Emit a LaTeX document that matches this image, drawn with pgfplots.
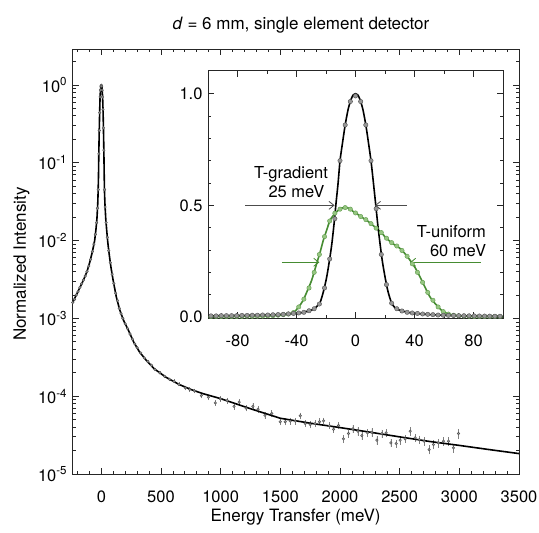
\documentclass[border=0pt]{standalone}
\usepackage{fontspec}
\setmainfont{TeX Gyre Heros}
\usepackage{pgfplots}
\pgfplotsset{compat=1.18}
\usepackage{pgfplotstable}
\usetikzlibrary{arrows.meta}

\definecolor{gline}{RGB}{70,140,50}
\definecolor{gfill}{RGB}{150,198,130}
\definecolor{gedge}{RGB}{95,155,75}
\definecolor{kfill}{RGB}{150,150,150}
\definecolor{kedge}{RGB}{80,80,80}

\pgfplotstableread{
E I
-240 1.6e-3
-200 2.15e-3
-154 3.0e-3
-120 4.0e-3
-98 5.2e-3
-75 7.2e-3
-56 1.0e-2
-45 1.4e-2
-37 1.9e-2
-30 3.0e-2
-27 0.042
-24 0.065
-21.5 0.12
-19.5 0.18
-17.5 0.26
-16 0.33
-14.5 0.42
-13.2 0.51
-11.8 0.60
-10.5 0.70
-8.8 0.78
-7 0.86
-5 0.93
-3 0.975
-1.5 0.995
0 1.0
1.5 0.995
3 0.975
5 0.93
7 0.86
8.8 0.78
10.5 0.70
12 0.61
13.6 0.51
15 0.42
16.6 0.33
18.2 0.25
20 0.18
22 0.115
24.5 0.062
27 0.04
30 0.03
37 0.019
45 0.0135
54 0.0095
64 0.007
80 0.0046
97 0.0032
125 0.0019
153 0.0013
185 0.00095
222 0.00073
270 0.0005
320 0.00037
380 0.000285
445 0.000224
542 0.000175
650 0.000142
750 0.000122
850 0.000108
1000 0.000093
1250 0.000069
1500 0.000052
1750 0.000045
2000 0.0000395
2250 0.0000345
2500 0.0000300
2750 0.0000262
3000 0.0000233
3250 0.0000206
3500 0.0000183
}\maincurve

\pgfplotstableread{
E I e
-240 1.6e-3 0.02
-225 1.75e-3 0.02
-210 2.0e-3 0.02
-195 2.2e-3 0.02
-180 2.5e-3 0.02
-165 2.8e-3 0.02
-150 3.1e-3 0.02
-135 3.5e-3 0.02
-120 4.0e-3 0.02
-105 4.7e-3 0.02
-90 5.7e-3 0.02
-75 7.2e-3 0.02
-62 9e-3 0.02
-50 1.2e-2 0.02
-40 1.7e-2 0.02
-32 2.6e-2 0.02
-26 0.045 0.02
-21 0.13 0.02
-17.5 0.26 0.02
-14 0.44 0.02
-10.5 0.70 0.02
-7 0.86 0.02
-3.5 0.965 0.02
0 0.99 0.02
3.5 0.965 0.02
7 0.86 0.02
10.5 0.70 0.02
14 0.485 0.02
17.5 0.28 0.02
21 0.145 0.02
26 0.045 0.02
32 0.027 0.02
40 0.017 0.02
50 0.011 0.02
62 0.0074 0.02
75 0.0052 0.02
90 0.0037 0.02
105 0.0028 0.02
120 0.0021 0.02
135 0.0017 0.02
150 0.00135 0.02
165 0.00115 0.02
180 0.001 0.02
200 0.00085 0.03
220 0.00074 0.03
240 0.00063 0.03
260 0.00054 0.03
280 0.00047 0.03
300 0.00042 0.03
330 0.00036 0.03
360 0.00031 0.03
390 0.00028 0.04
420 0.00025 0.04
450 0.00022 0.04
490 0.0002 0.05
530 0.00018 0.05
570 0.000165 0.05
610 0.000155 0.06
650 0.000142 0.06
703 0.000128 0.07
740 0.000122 0.07
781 0.000117 0.07
838 0.000102 0.08
897 0.000097 0.08
955 0.000082 0.08
998 0.000092 0.08
1055 0.000088 0.09
1112 0.000074 0.09
1155 0.000084 0.09
1213 0.000070 0.09
1270 0.000074 0.1
1313 0.000068 0.1
1371 0.000057 0.1
1428 0.000060 0.1
1499 0.0000470 0.1
1541 0.0000470 0.1
1583 0.0000478 0.1
1625 0.0000478 0.1
1667 0.0000560 0.1
1709 0.0000445 0.1
1750 0.0000432 0.1
1792 0.0000445 0.1
1828 0.0000470 0.1
1862 0.0000482 0.1
1912 0.0000418 0.1
1946 0.0000375 0.1
1988 0.0000420 0.1
2029 0.0000283 0.12
2071 0.0000331 0.12
2108 0.0000380 0.12
2150 0.0000355 0.12
2183 0.0000312 0.12
2231 0.0000338 0.12
2267 0.0000344 0.12
2309 0.0000272 0.12
2351 0.0000331 0.12
2387 0.0000338 0.12
2426 0.0000251 0.12
2471 0.0000246 0.12
2504 0.0000272 0.12
2546 0.0000283 0.12
2588 0.0000355 0.12
2630 0.0000292 0.12
2666 0.0000277 0.12
2705 0.0000264 0.13
2747 0.0000206 0.13
2783 0.0000239 0.13
2825 0.0000251 0.13
2867 0.0000264 0.13
2909 0.0000264 0.13
2951 0.0000217 0.13
2993 0.0000331 0.15
}\mainpts

\pgfplotstableread{
E I
-98 0.005
-94.5 0.005
-91 0.006
-87.5 0.006
-84 0.006
-80.5 0.006
-77 0.007
-73.5 0.007
-70 0.008
-66.5 0.008
-63 0.009
-59.5 0.009
-56 0.010
-52.5 0.011
-49 0.012
-45.5 0.014
-42 0.016
-38.5 0.018
-35 0.021
-31.5 0.028
-28 0.037
-24.5 0.058
-21 0.13
-17.5 0.26
-14 0.44
-10.5 0.70
-7 0.86
-3.5 0.965
0 0.99
3.5 0.965
7 0.86
10.5 0.70
14 0.485
17.5 0.28
21 0.145
24.5 0.062
28 0.037
31.5 0.027
35 0.021
38.5 0.018
42 0.016
45.5 0.0135
49 0.012
52.5 0.0105
56 0.0088
59.5 0.008
63 0.0073
66.5 0.0066
70 0.006
73.5 0.0056
77 0.0052
80.5 0.0048
84 0.0045
87.5 0.0042
91 0.0038
94.5 0.0035
98 0.0032
}\insetkpts

\pgfplotstableread{
E I
-100 0.002
-70 0.003
-55 0.006
-48 0.01
-42 0.02
-38.5 0.045
-35.4 0.076
-32.5 0.12
-29.7 0.165
-26.3 0.24
-24 0.29
-21.8 0.344
-19.5 0.39
-17.3 0.433
-15 0.455
-12.7 0.472
-10 0.485
-7.1 0.492
-4 0.485
-1.5 0.472
0.8 0.463
4 0.448
7.6 0.433
11 0.415
14.4 0.396
18 0.374
21.2 0.351
25 0.33
30.2 0.307
34 0.28
37 0.254
40.5 0.22
43.7 0.18
47 0.135
50.5 0.09
54 0.06
59.5 0.024
65 0.01
70.8 0.005
80 0.002
100 0.001
}\greencurve

\pgfplotstableread{
E I
-98 0.002
-94.5 0.002
-91 0.002
-87.5 0.002
-84 0.002
-80.5 0.002
-77 0.0025
-73.5 0.003
-70 0.003
-66.5 0.0035
-63 0.004
-59.5 0.005
-56 0.006
-52.5 0.008
-49 0.010
-45.5 0.013
-42 0.02
-38.5 0.045
-35 0.08
-31.5 0.13
-28 0.2
-24.5 0.28
-21 0.36
-17.5 0.43
-14 0.465
-10.5 0.483
-7 0.49
-3.5 0.483
0 0.466
3.5 0.45
7 0.436
10.5 0.418
14 0.398
17.5 0.378
21 0.353
24.5 0.333
28 0.318
31.5 0.298
35 0.272
38.5 0.238
42 0.2
45.5 0.155
49 0.11
52.5 0.075
56 0.045
59.5 0.024
63 0.013
66.5 0.008
70 0.005
73.5 0.004
77 0.003
80.5 0.002
84 0.002
87.5 0.002
91 0.002
94.5 0.002
98 0.002
}\greenpts

\begin{document}
\begin{tikzpicture}
\path[use as bounding box] (0,0) rectangle (539pt,533pt);

\begin{axis}[
  at={(72.7pt,59pt)}, anchor=south west,
  scale only axis, width=446.3pt, height=424.7pt,
  ymode=log,
  xmin=-240, xmax=3500, ymin=1e-5, ymax=2.87,
  xtick={0,500,1000,1500,2000,2500,3000,3500},
  minor xtick={-200,-100,100,200,300,400,600,700,800,900,1100,1200,1300,1400,1600,1700,1800,1900,2100,2200,2300,2400,2600,2700,2800,2900,3100,3200,3300,3400},
  ytick={1e-5,1e-4,1e-3,1e-2,1e-1,1},
  yticklabels={10\textsuperscript{-5},10\textsuperscript{-4},10\textsuperscript{-3},10\textsuperscript{-2},10\textsuperscript{-1},10\textsuperscript{0}},
  minor ytick={2e-5,3e-5,4e-5,5e-5,6e-5,7e-5,8e-5,9e-5,2e-4,3e-4,4e-4,5e-4,6e-4,7e-4,8e-4,9e-4,2e-3,3e-3,4e-3,5e-3,6e-3,7e-3,8e-3,9e-3,2e-2,3e-2,4e-2,5e-2,6e-2,7e-2,8e-2,9e-2,2e-1,3e-1,4e-1,5e-1,6e-1,7e-1,8e-1,9e-1,2},
  tick align=inside,
  major tick length=6pt, minor tick length=3.2pt,
  axis line style={line width=0.9pt, black!85},
  every tick/.style={line width=0.8pt, black!85},
  tick label style={font=\fontsize{16.5}{19}\selectfont},
  /pgf/number format/assume math mode=true,
  /pgf/number format/1000 sep={},
  xticklabel style={yshift=-13pt},
  yticklabel style={xshift=-2pt},
]
\addplot[only marks, mark=*, mark size=1.3pt, color=kedge, fill=kfill,
  error bars/.cd, y dir=both, y explicit relative,
  error bar style={line width=0.5pt, color=gray}, error mark=none]
  table[x=E, y=I, y error=e] {\mainpts};
\addplot[black, line width=1.6pt] table[x=E, y=I] {\maincurve};
\end{axis}

\begin{axis}[
  at={(208pt,215pt)}, anchor=south west,
  scale only axis, width=295pt, height=247.3pt,
  xmin=-100, xmax=100, ymin=-0.0045, ymax=1.103,
  axis background/.style={fill=white},
  xtick={-80,-40,0,40,80},
  minor xtick={-60,-20,20,60},
  ytick={0,0.5,1},
  minor ytick={0.1,0.2,0.3,0.4,0.6,0.7,0.8,0.9},
  tick align=inside,
  major tick length=6pt, minor tick length=3.2pt,
  axis line style={line width=0.9pt, black!85},
  every tick/.style={line width=0.8pt, black!85},
  tick label style={font=\fontsize{16.5}{19}\selectfont},
  /pgf/number format/assume math mode=true,
  xticklabel style={yshift=-13pt},
  yticklabel style={xshift=-2pt, /pgf/number format/.cd, fixed, fixed zerofill, precision=1},
]
\addplot[only marks, mark=*, mark size=2.2pt, color=gedge, fill=gfill, line width=0.4pt]
  table[x=E, y=I] {\greenpts};
\addplot[gline, line width=1.6pt, smooth, tension=0.4] table[x=E, y=I] {\greencurve};
\addplot[only marks, mark=*, mark size=2.2pt, color=kedge, fill=kfill, line width=0.4pt]
  table[x=E, y=I] {\insetkpts};
\addplot[black, line width=1.6pt, smooth, tension=0.4] table[x=E, y=I] {\maincurve};

\draw[-{Straight Barb[length=5pt,width=8pt]}, black!70, line width=0.8pt]
  (axis cs:-74.6,0.5) -- (axis cs:-14.2,0.5);
\draw[-{Straight Barb[length=5pt,width=8pt]}, black!70, line width=0.8pt]
  (axis cs:34.7,0.5) -- (axis cs:13.2,0.5);
\draw[-{Straight Barb[length=5pt,width=8pt]}, gline, line width=0.8pt]
  (axis cs:-50,0.245) -- (axis cs:-24.5,0.245);
\draw[-{Straight Barb[length=5pt,width=8pt]}, gline, line width=0.8pt]
  (axis cs:84.9,0.245) -- (axis cs:37,0.245);

\node[anchor=base, font=\fontsize{16.5}{19}\selectfont, inner sep=0pt] at (axis cs:-43.7,0.62) {T-gradient};
\node[anchor=base, font=\fontsize{16.5}{19}\selectfont, inner sep=0pt] at (axis cs:-40,0.537) {25 meV};
\node[anchor=base, font=\fontsize{16.5}{19}\selectfont, inner sep=0pt] at (axis cs:65,0.358) {T-uniform};
\node[anchor=base, font=\fontsize{16.5}{19}\selectfont, inner sep=0pt] at (axis cs:69.5,0.269) {60 meV};
\end{axis}

\node[anchor=base, font=\fontsize{17}{20}\selectfont, inner sep=0pt] at (301pt,503pt) {\textit{d} = 6 mm, single element detector};
\node[anchor=base, font=\fontsize{17}{20}\selectfont, inner sep=0pt] at (295.6pt,11pt) {Energy Transfer (meV)};
\node[anchor=base, rotate=90, font=\fontsize{17}{20}\selectfont, inner sep=0pt] at (26pt,269pt) {Normalized Intensity};
\end{tikzpicture}
\end{document}
